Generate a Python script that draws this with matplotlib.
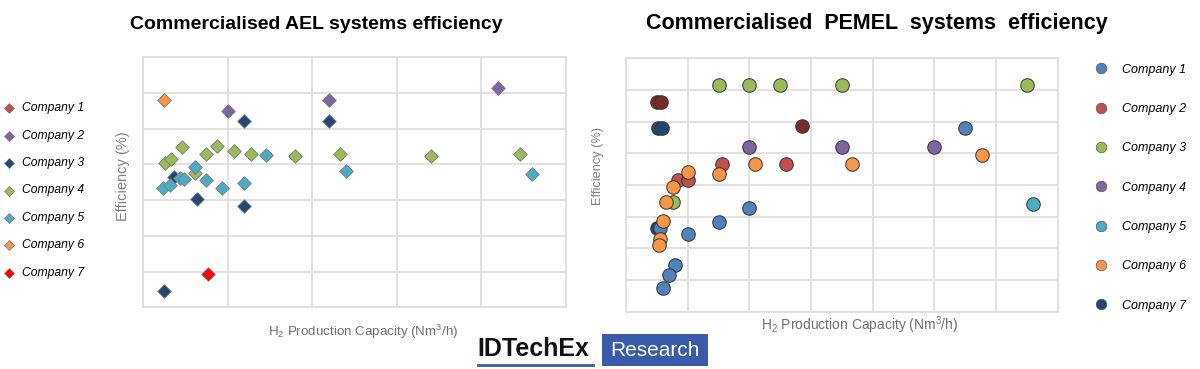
import matplotlib
matplotlib.use("Agg")
import matplotlib.pyplot as plt
from matplotlib.lines import Line2D
from matplotlib.patches import Rectangle

plt.rcParams['font.family'] = ['Liberation Sans', 'DejaVu Sans']
plt.rcParams['mathtext.fontset'] = 'custom'
plt.rcParams['mathtext.rm'] = 'Liberation Sans'
plt.rcParams['mathtext.it'] = 'Liberation Sans:italic'

# ---- data (relative units, axes have no tick labels) ----
companies = ['Company 1', 'Company 2', 'Company 3', 'Company 4',
             'Company 5', 'Company 6', 'Company 7']

# AEL chart
ael_c1_x, ael_c1_y = [], []
ael_c2_x = [1.00, 2.20, 4.20]
ael_c2_y = [5.50, 5.81, 6.13]
ael_c3_x = [1.19, 2.20, 0.36, 0.64, 1.19, 0.24]
ael_c3_y = [5.22, 5.22, 3.66, 3.03, 2.84, 0.47]
ael_c4_x = [0.26, 0.33, 0.46, 0.61, 0.74, 0.87, 1.07, 1.27, 1.79, 2.33, 3.40, 4.45]
ael_c4_y = [4.03, 4.16, 4.50, 3.75, 4.30, 4.53, 4.39, 4.30, 4.25, 4.30, 4.23, 4.30]
ael_c5_x = [1.45, 0.23, 0.31, 0.43, 0.48, 0.61, 0.74, 0.93, 1.19, 2.40, 4.60]
ael_c5_y = [4.27, 3.35, 3.43, 3.61, 3.59, 3.92, 3.56, 3.33, 3.47, 3.82, 3.72]
ael_c6_x, ael_c6_y = [0.25], [5.81]
ael_c7_x, ael_c7_y = [0.76], [0.94]

# PEMEL chart
pem_c1_x = [5.50, 2.00, 1.50, 1.00, 0.55, 0.80, 0.70, 0.60]
pem_c1_y = [5.81, 3.26, 2.84, 2.45, 2.65, 1.46, 1.16, 0.74]
pem_c2_x = [1.56, 2.60, 0.85, 1.00]
pem_c2_y = [4.66, 4.66, 4.16, 4.16]
pem_c3_x = [1.50, 2.00, 2.50, 3.50, 6.50, 0.76]
pem_c3_y = [7.15, 7.15, 7.15, 7.15, 7.15, 3.47]
pem_c4_x = [2.00, 3.50, 5.00]
pem_c4_y = [5.20, 5.20, 5.20]
pem_c5_x, pem_c5_y = [6.60], [3.40]
pem_c6_x = [5.77, 2.09, 3.66, 1.50, 1.00, 0.77, 0.65, 0.60, 0.55, 0.53]
pem_c6_y = [4.94, 4.66, 4.66, 4.34, 4.42, 3.93, 3.47, 2.86, 2.28, 2.11]
pem_c7_x = [0.52, 0.59, 0.51]
pem_c7_y = [5.81, 5.81, 2.65]
pem_dark_x = [0.51, 0.56, 2.85]   # dark red points, not in the legend
pem_dark_y = [6.63, 6.63, 5.85]

ael_colors = ['#c0504d', '#8064a2', '#254672', '#9bbb59', '#4bacc6', '#f79646', '#ff0000']
pem_colors = ['#4f81bd', '#c0504d', '#9bbb59', '#8064a2', '#4bacc6', '#f79646', '#254672']

W, H = 1200, 369
fig = plt.figure(figsize=(W / 100, H / 100), dpi=100)


def fx(x):
    return x / W


def fy(y):
    return 1 - y / H


def style_axes(ax, nx, ny):
    ax.set_xlim(0, nx)
    ax.set_ylim(0, ny)
    ax.set_xticks(range(nx + 1))
    ax.set_yticks(range(ny + 1))
    ax.tick_params(length=0, labelbottom=False, labelleft=False)
    ax.grid(True, color='#dedede', lw=1.3)
    ax.set_axisbelow(True)
    for s in ax.spines.values():
        s.set_color('#dedede')
        s.set_linewidth(1.3)


# ---- AEL ----
ax1 = fig.add_axes([fx(143.3), fy(307.3), fx(566 - 143.3), (307.3 - 57.3) / H])
style_axes(ax1, 5, 7)
ael_x = [ael_c1_x, ael_c2_x, ael_c3_x, ael_c4_x, ael_c5_x, ael_c6_x, ael_c7_x]
ael_y = [ael_c1_y, ael_c2_y, ael_c3_y, ael_c4_y, ael_c5_y, ael_c6_y, ael_c7_y]
for i in range(7):
    ax1.scatter(ael_x[i], ael_y[i], marker='D', s=48, color=ael_colors[i],
                edgecolor='#7a7a7a', linewidth=0.6, zorder=3 + i, clip_on=False)

# ---- PEMEL ----
ax2 = fig.add_axes([fx(626), fy(311.7), fx(1057.7 - 626), (311.7 - 58.3) / H])
style_axes(ax2, 7, 8)
ax2.scatter(pem_c7_x, pem_c7_y, s=95, color=pem_colors[6], edgecolor='#333333',
            linewidth=0.7, zorder=2.5)
ax2.scatter(pem_dark_x, pem_dark_y, s=95, color='#772c2a', edgecolor='#333333',
            linewidth=0.7, zorder=2.6)
pem_x = [pem_c1_x, pem_c2_x, pem_c3_x, pem_c4_x, pem_c5_x, pem_c6_x]
pem_y = [pem_c1_y, pem_c2_y, pem_c3_y, pem_c4_y, pem_c5_y, pem_c6_y]
for i in range(6):
    ax2.scatter(pem_x[i], pem_y[i], s=95, color=pem_colors[i], edgecolor='#333333',
                linewidth=0.7, zorder=3 + i)

# ---- titles and axis labels ----
fig.text(fx(316.5), fy(24.5), 'Commercialised AEL systems efficiency',
         fontsize=14, fontweight='bold', ha='center', va='center')
fig.text(fx(876.5), fy(24), 'Commercialised  PEMEL  systems  efficiency',
         fontsize=15.5, fontweight='bold', ha='center', va='center')

xlab = r'H$_2$ Production Capacity (Nm$^3$/h)'
fig.text(fx(363), fy(331.5), xlab, fontsize=9.6, color='#707070', ha='center', va='center')
fig.text(fx(859.5), fy(325), xlab, fontsize=10, color='#707070', ha='center', va='center')
fig.text(fx(123.3), fy(176), 'Efficiency (%)', fontsize=10.5, color='#808080',
         rotation=90, ha='center', va='center')
fig.text(fx(598.3), fy(166), 'Efficiency (%)', fontsize=9.2, color='#808080',
         rotation=90, ha='center', va='center')

# ---- legends drawn by hand ----
for i, name in enumerate(companies):
    y = 108.3 + i * 27.4
    fig.add_artist(Line2D([fx(9.3)], [fy(y)], transform=fig.transFigure, marker='D',
                          markersize=4.8, color=ael_colors[i], markeredgecolor='#7a7a7a',
                          markeredgewidth=0.5, linestyle='none'))
    fig.text(fx(21.5), fy(y), name, fontsize=8.7, style='italic', ha='left', va='center')

for i, name in enumerate(companies):
    y = 68.3 + i * 39.3
    fig.add_artist(Line2D([fx(1100.7)], [fy(y)], transform=fig.transFigure, marker='o',
                          markersize=7.6, color=pem_colors[i], markeredgecolor='#555555',
                          markeredgewidth=0.5, linestyle='none'))
    fig.text(fx(1122.5), fy(y + 1.5), name, fontsize=9, style='italic', ha='left', va='center')

# ---- logo ----
fig.text(fx(477.7), fy(349), 'IDTechEx', fontsize=18, fontweight='bold',
         ha='left', va='center', color='#111111')
fig.add_artist(Line2D([fx(477.7), fx(593.3)], [fy(364.5), fy(364.5)],
                      transform=fig.transFigure, color='#3b5ca8', lw=2))
fig.add_artist(Rectangle((fx(602), fy(366)), fx(707.7 - 602), (366 - 334) / H,
                         transform=fig.transFigure, facecolor='#3a5ba9', edgecolor='none'))
fig.text(fx(654.8), fy(350), 'Research', fontsize=15, color='white',
         ha='center', va='center')

fig.savefig('out.png', dpi=100)
